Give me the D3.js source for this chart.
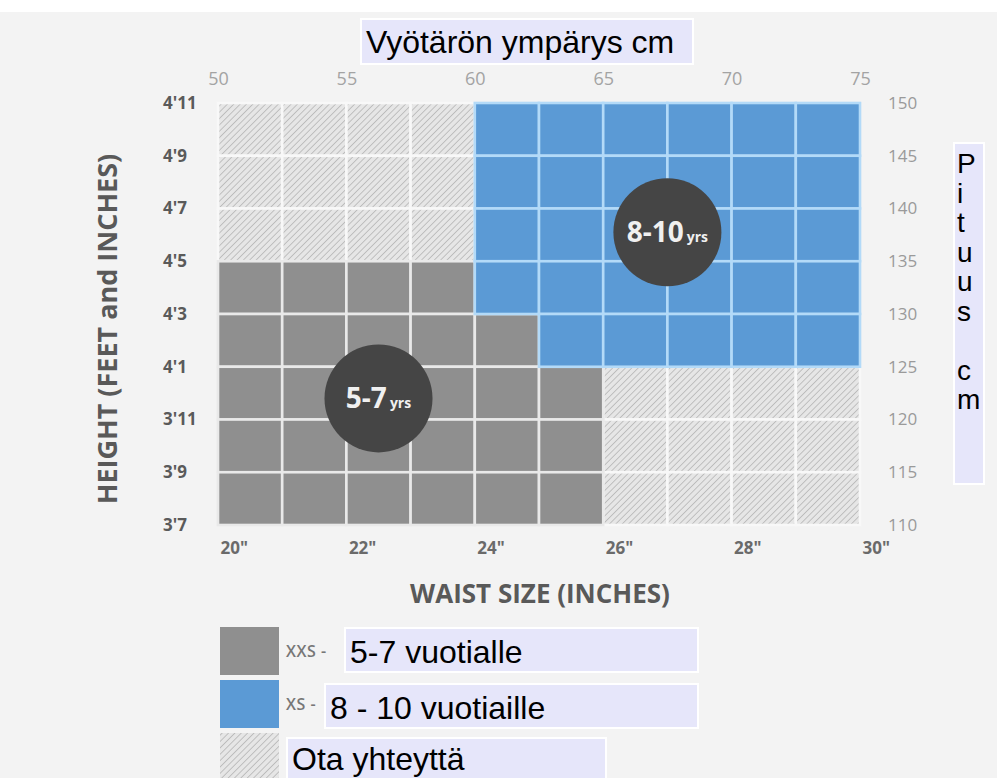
<!DOCTYPE html>
<html>
<head>
<meta charset="utf-8">
<script src="https://cdn.jsdelivr.net/npm/d3@7"></script>
<style>
    body { margin: 0; background: #fff; }
    svg { display: block; }
</style>
</head>
<body>
<svg id="chart" width="997" height="778"></svg>
<script>
// bottom / top axis values
const waistInches = [20, 22, 24, 26, 28, 30];
const waistCm = [50, 55, 60, 65, 70, 75];
// left / right axis values (height in inches, and cm)
const heightInches = [43, 45, 47, 49, 51, 53, 55, 57, 59];
const heightLabels = ["3'7", "3'9", "3'11", "4'1", "4'3", "4'5", "4'7", "4'9", "4'11"];
const heightCm = [110, 115, 120, 125, 130, 135, 140, 145, 150];

// one string per 2" height band, top (4'9-4'11) to bottom (3'7-3'9), one char per 1" waist step
// G = XXS (5-7), S = XS (8-10), H = contact us
const sizeRows = [
    "HHHHSSSSSS",
    "HHHHSSSSSS",
    "HHHHSSSSSS",
    "GGGGSSSSSS",
    "GGGGGSSSSS",
    "GGGGGGHHHH",
    "GGGGGGHHHH",
    "GGGGGGHHHH",
];

const badges = [
    { age: "8-10", unit: "yrs", waist: 27.0, height: 54.1 },
    { age: "5-7", unit: "yrs", waist: 22.5, height: 47.8 },
];

const legendCodes = ["G", "S", "H"];
const legendTags = ["XXS -", "XS -", ""];
const legendTexts = ["5-7 vuotialle", "8 - 10 vuotiaille", "Ota yhteyttä"];

const ctx = {
    LEFT: 218, RIGHT: 860, TOP: 103, BOTTOM: 525,
    GRAY: "#8f8f8f", BLUE: "#5b9ad5", HATCH_BG: "#e6e6e6",
    LINE: { G: "#e9e9e9", S: "#b3daf8", H: "#f8f8f8" },
    LABEL_FONT: "'Open Sans', sans-serif",
    BOX_FONT: "'Liberation Sans', Arial, sans-serif",
    BOX_FILL: "#e6e6fa",
    BOX_FONT_SIZE: "32px",
};

const svg = d3.select("#chart");

main();

function main() {
    svg.append("rect").attr("x", 0).attr("y", 12).attr("width", 997).attr("height", 766).attr("fill", "#f3f3f3");

    const defs = svg.append("defs");
    const pat = defs.append("pattern")
        .attr("id", "hatch")
        .attr("patternUnits", "userSpaceOnUse")
        .attr("width", 4.5).attr("height", 4.5)
        .attr("patternTransform", "rotate(45)");
    pat.append("rect").attr("width", 4.5).attr("height", 4.5).attr("fill", ctx.HATCH_BG);
    pat.append("line").attr("x1", 0).attr("y1", 0).attr("x2", 0).attr("y2", 4.5)
        .attr("stroke", "#b9b9b9").attr("stroke-width", 1.7);

    const x = d3.scaleLinear().domain([20, 30]).range([ctx.LEFT, ctx.RIGHT]);
    const y = d3.scaleLinear().domain([43, 59]).range([ctx.BOTTOM, ctx.TOP]);
    const xCm = d3.scaleLinear().domain([50, 75]).range([ctx.LEFT, ctx.RIGHT]);
    const yCm = d3.scaleLinear().domain([110, 150]).range([ctx.BOTTOM, ctx.TOP]);

    const fillFor = code => code === "G" ? ctx.GRAY : code === "S" ? ctx.BLUE : "url(#hatch)";

    // cells
    const cells = [];
    sizeRows.forEach((row, r) => {
        row.split("").forEach((code, c) => {
            cells.push({ code, w0: 20 + c, w1: 21 + c, h0: 59 - 2 * r, h1: 57 - 2 * r });
        });
    });
    const order = { H: 0, G: 1, S: 2 };
    cells.sort((a, b) => order[a.code] - order[b.code]);

    svg.append("g").selectAll("rect")
        .data(cells)
        .enter()
        .append("rect")
        .attr("x", d => x(d.w0))
        .attr("y", d => y(d.h0))
        .attr("width", d => x(d.w1) - x(d.w0))
        .attr("height", d => y(d.h1) - y(d.h0))
        .attr("fill", d => fillFor(d.code))
        .attr("stroke", d => ctx.LINE[d.code])
        .attr("stroke-width", 2.6);

    // axes
    const bottomAxis = svg.append("g")
        .attr("transform", `translate(0,${ctx.BOTTOM + 23})`)
        .call(d3.axisBottom(x).tickValues(waistInches).tickSize(0).tickFormat(d => d + '"'));
    const topAxis = svg.append("g")
        .attr("transform", `translate(0,${ctx.TOP - 16})`)
        .call(d3.axisTop(xCm).tickValues(waistCm).tickSize(0));
    const leftAxis = svg.append("g")
        .attr("transform", `translate(163,0)`)
        .call(d3.axisLeft(y).tickValues(heightInches).tickSize(0)
            .tickFormat((d, i) => heightLabels[i]));
    const rightAxis = svg.append("g")
        .attr("transform", `translate(888,0)`)
        .call(d3.axisRight(yCm).tickValues(heightCm).tickSize(0));

    [bottomAxis, topAxis, leftAxis, rightAxis].forEach(a => a.select(".domain").remove());

    bottomAxis.selectAll("text")
        .attr("dy", "0")
        .attr("y", 6)
        .attr("text-anchor", "start")
        .attr("dx", 2)
        .style("font-family", ctx.LABEL_FONT)
        .style("font-size", "17px")
        .style("font-weight", "700")
        .attr("fill", "#6a6a6a");
    topAxis.selectAll("text")
        .attr("y", -2)
        .style("font-family", ctx.LABEL_FONT)
        .style("font-size", "18px")
        .attr("fill", "#a3a3a3");
    leftAxis.selectAll("text")
        .attr("x", 0)
        .attr("text-anchor", "start")
        .style("font-family", ctx.LABEL_FONT)
        .style("font-size", "17px")
        .style("font-weight", "700")
        .attr("fill", "#5a5a5a");
    rightAxis.selectAll("text")
        .attr("x", 0)
        .style("font-family", ctx.LABEL_FONT)
        .style("font-size", "17px")
        .attr("fill", "#9a9a9a");

    // axis titles
    svg.append("text")
        .attr("x", 540)
        .attr("y", 603)
        .attr("text-anchor", "middle")
        .style("font-family", ctx.LABEL_FONT)
        .style("font-size", "26px")
        .style("font-weight", "700")
        .attr("fill", "#595959")
        .text("WAIST SIZE (INCHES)");
    svg.append("text")
        .attr("transform", "translate(117,329) rotate(-90)")
        .attr("text-anchor", "middle")
        .style("font-family", ctx.LABEL_FONT)
        .style("font-size", "27px")
        .style("font-weight", "700")
        .attr("fill", "#595959")
        .text("HEIGHT (FEET and INCHES)");

    // age badges
    const badge = svg.append("g").selectAll("g")
        .data(badges)
        .enter()
        .append("g")
        .attr("transform", d => `translate(${x(d.waist)},${y(d.height)})`);
    badge.append("circle").attr("r", 54).attr("fill", "#454545");
    const bt = badge.append("text")
        .attr("text-anchor", "middle")
        .attr("y", 10)
        .style("font-family", ctx.LABEL_FONT)
        .style("font-weight", "700")
        .attr("fill", "#f0f0f0");
    bt.append("tspan").style("font-size", "28px").text(d => d.age);
    bt.append("tspan").style("font-size", "14px").attr("dx", 3).text(d => d.unit);

    // title boxes
    labelBox(361, 19, 332, 45, "Vyötärön ympärys cm", 366, 53);

    svg.append("rect")
        .attr("x", 954).attr("y", 143).attr("width", 30).attr("height", 341)
        .attr("fill", ctx.BOX_FILL).attr("stroke", "#fff").attr("stroke-width", 2);
    const vLetters = ["P", "i", "t", "u", "u", "s", "", "c", "m"];
    svg.append("g").selectAll("text")
        .data(vLetters)
        .enter()
        .append("text")
        .attr("x", 957)
        .attr("y", (d, i) => 173 + i * 29.5)
        .style("font-family", ctx.BOX_FONT)
        .style("font-size", "28px")
        .attr("fill", "#000")
        .text(d => d);

    // legend
    const legendY = [627, 680, 733];
    const boxY = [628, 684, 738];
    const legendBoxX = [345, 325, 287];
    const legendBoxW = [353, 373, 319];
    const textDy = [35, 35, 32];
    legendCodes.forEach((code, i) => {
        svg.append("rect")
            .attr("x", 220).attr("y", legendY[i])
            .attr("width", 59).attr("height", 48)
            .attr("fill", fillFor(code));
        if (legendTags[i]) {
            svg.append("text")
                .attr("x", 286).attr("y", legendY[i] + 30)
                .style("font-family", ctx.LABEL_FONT)
                .style("font-size", "16px")
                .style("font-weight", "600")
                .style("letter-spacing", "0.5px")
                .attr("fill", "#777")
                .text(legendTags[i]);
        }
        labelBox(legendBoxX[i], boxY[i], legendBoxW[i], 44, legendTexts[i], legendBoxX[i] + 5, boxY[i] + textDy[i]);
    });
}

function labelBox(bx, by, bw, bh, text, tx, ty) {
    svg.append("rect")
        .attr("x", bx).attr("y", by).attr("width", bw).attr("height", bh)
        .attr("fill", ctx.BOX_FILL).attr("stroke", "#fff").attr("stroke-width", 2);
    svg.append("text")
        .attr("x", tx).attr("y", ty)
        .style("font-family", ctx.BOX_FONT)
        .style("font-size", ctx.BOX_FONT_SIZE)
        .attr("fill", "#000")
        .text(text);
}
</script>
</body>
</html>
